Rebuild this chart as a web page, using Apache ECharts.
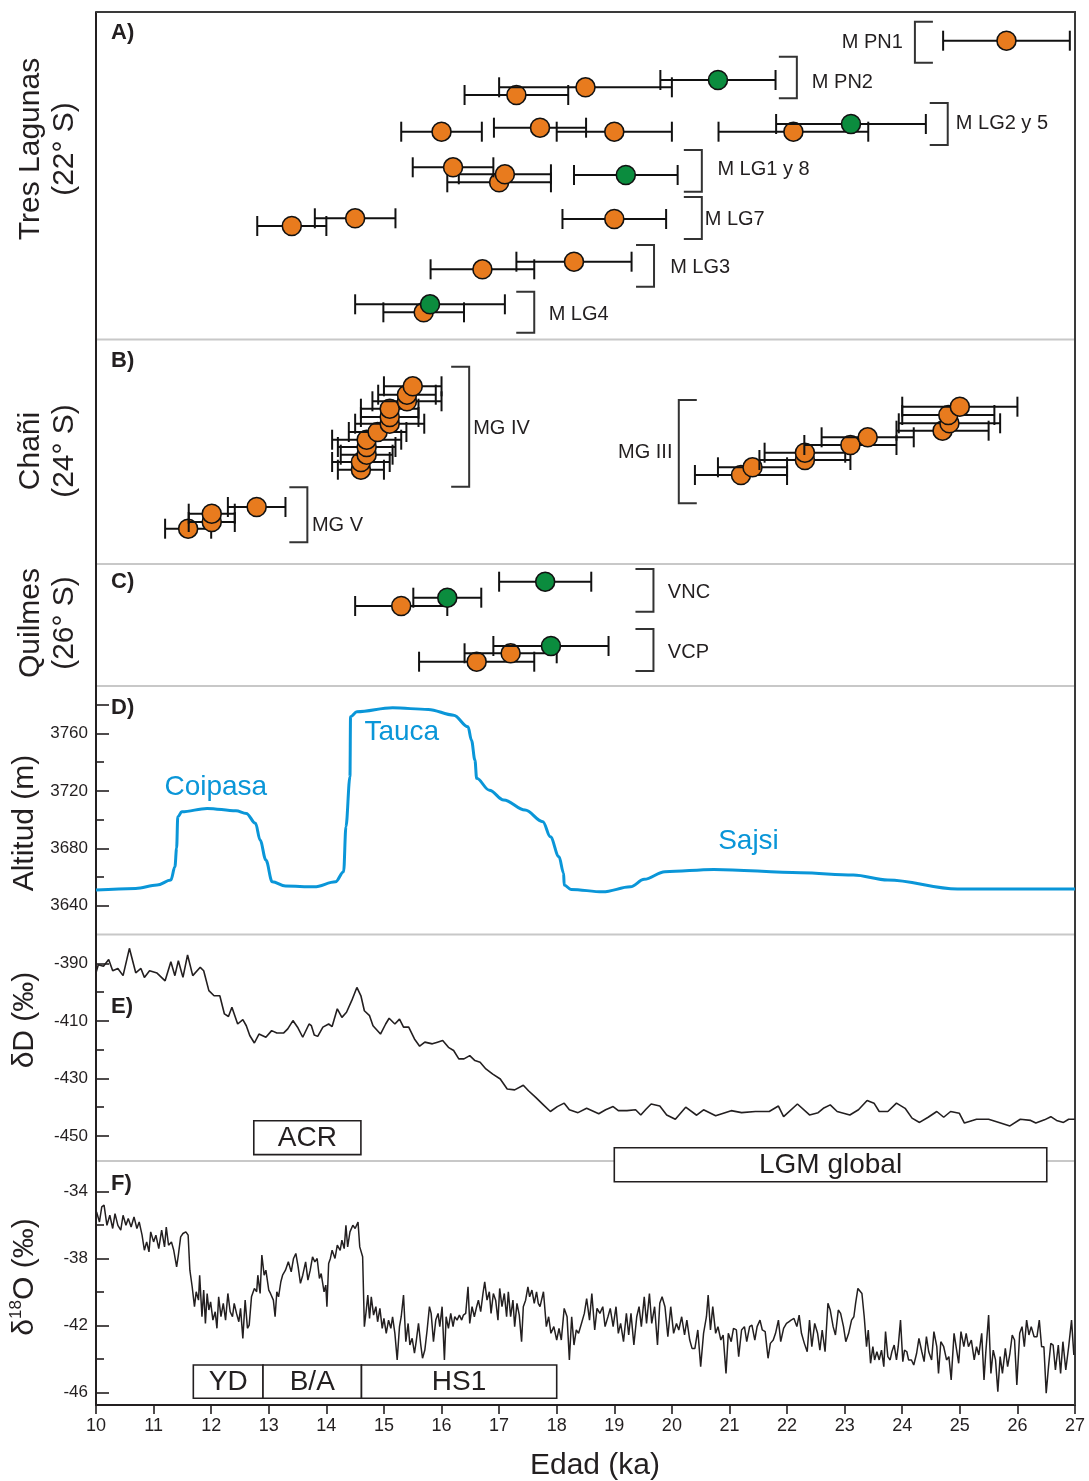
<!DOCTYPE html>
<html><head><meta charset="utf-8">
<script src="https://cdn.jsdelivr.net/npm/echarts@6/dist/echarts.min.js"></script>
<style>html,body{margin:0;padding:0;background:#fff}#c{width:1089px;height:1481px}</style>
</head><body><div id="c"></div>
<script>
// ---------- DATA ----------
const ageTicks = [10,11,12,13,14,15,16,17,18,19,20,21,22,23,24,25,26,27];

// Panel A: Tres Lagunas (age ka, ±error, row, type o=orange g=green)
const aAge  = [25.81, 20.80, 18.50, 17.30, 23.11, 22.11, 19.00, 17.71, 16.00, 19.20, 16.20, 17.10, 17.00, 19.00, 14.50, 13.40, 18.30, 16.71, 15.80, 15.69];
const aErr  = [1.1, 1.0, 1.5, 0.9, 1.3, 1.3, 1.0, 0.8, 0.7, 0.9, 0.7, 0.8, 0.9, 0.9, 0.7, 0.6, 1.0, 0.9, 1.3, 0.7];
const aRow  = [2.87, 6.8, 7.53, 8.3, 11.2, 11.97, 11.97, 11.57, 11.97, 16.3, 15.53, 16.23, 17.03, 20.7, 20.63, 21.4, 24.97, 25.73, 29.23, 30.03];
const aType = ['o','g','o','o','g','o','o','o','o','g','o','o','o','o','o','o','o','o','g','o'];
const aBrkName = ['M PN1','M PN2','M LG2 y 5','M LG1 y 8','M LG7','M LG3','M LG4'];
const aBrkAge  = [24.22, 22.17, 24.79, 20.52, 20.52, 19.69, 17.61];
const aBrkTop  = [0.97, 4.47, 9.1, 13.8, 18.5, 23.3, 27.97];
const aBrkBot  = [5.07, 8.63, 13.3, 17.97, 22.7, 27.47, 32.07];
const aBrkOpen = ['right','left','left','left','left','left','left'];
const aLblAge  = [24.01, 22.43, 24.93, 20.79, 20.57, 19.97, 17.86];
const aLblRow  = [3.0, 7.07, 11.1, 15.7, 20.7, 25.5, 30.2];

// Panel B: Chañi
const bAge  = [15.50,15.40,15.40,15.10,15.10,15.10,14.89,14.70,14.70,14.70,14.60,14.60, 12.79,12.01,12.01,11.60, 25.00,24.80,24.82,24.70,23.40,23.10,22.31,22.31,21.40,21.20];
const bErr  = [0.5,0.5,0.6,0.5,0.5,0.6,0.5,0.6,0.5,0.45,0.5,0.4, 0.5,0.4,0.4,0.4, 1.0,0.8,0.88,0.8,0.8,0.8,0.7,0.79,0.6,0.8];
const bRow  = [4.68,5.52,6.18,6.92,7.75,8.42,9.25,10.02,10.75,11.52,12.25,13.02, 16.75,17.42,18.25,18.92, 6.72,7.55,8.38,9.12,9.78,10.55,11.32,12.05,12.78,13.55];
const bType = bAge.map(() => 'o');
const bBrkName = ['MG IV','MG V','MG III'];
const bBrkAge  = [16.48, 13.67, 20.12];
const bBrkTop  = [2.72, 14.78, 6.05];
const bBrkBot  = [14.72, 20.28, 16.38];
const bBrkOpen = ['left','left','right'];
const bLblAge  = [16.55, 13.75, 20.01];
const bLblRow  = [8.85, 18.55, 11.25];

// Panel C: Quilmes
const cAge  = [17.80, 16.10, 15.30, 17.90, 17.20, 16.61];
const cErr  = [0.8, 0.59, 0.8, 1.0, 0.8, 1.0];
const cRow  = [1.77, 3.37, 4.2, 8.2, 8.93, 9.77];
const cType = ['g','g','o','g','o','o'];
const cBrkName = ['VNC','VCP'];
const cBrkAge  = [19.68, 19.68];
const cBrkTop  = [0.5, 6.5];
const cBrkBot  = [4.77, 10.7];
const cBrkOpen = ['left','left'];
const cLblAge  = [19.93, 19.93];
const cLblRow  = [2.8, 8.8];

// Panel D: lake level altitude (m)
const dAge = [10.0,10.69,11.06,11.30,11.37,11.40,11.42,11.49,11.93,12.43,12.61,12.77,12.85,12.95,13.06,13.29,13.79,14.16,14.30,14.34,14.41,14.42,14.53,15.15,15.77,16.21,16.46,16.52,16.58,16.61,16.83,17.08,17.45,17.76,17.89,18.04,18.12,18.13,18.25,18.80,19.28,19.52,19.88,20.73,22.24,23.15,23.75,24.96,27.0];
const dAlt = [3650.9,3652.1,3654.4,3657.9,3667.1,3680.2,3701.9,3705.4,3707.8,3706.1,3704.3,3697.4,3685.7,3671.8,3656.7,3653.7,3653.2,3656.7,3663.7,3695.0,3729.8,3771.6,3775.0,3777.8,3776.7,3772.7,3764.6,3755.3,3741.4,3728.7,3720.5,3713.6,3706.6,3698.5,3688.0,3674.1,3662.6,3654.4,3651.4,3649.7,3653.2,3658.4,3663.7,3665.3,3663.0,3661.4,3657.9,3651.6,3651.6];
const dLblText = ['Coipasa','Tauca','Sajsi'];
const dLblAge  = [12.08, 15.31, 21.33];
const dLblAlt  = [3722.8, 3761.1, 3685.0];

// Panel E: δD (‰)
const eAge = [10.00,10.04,10.13,10.22,10.29,10.38,10.47,10.58,10.69,10.78,10.84,10.93,11.06,11.20,11.30,11.37,11.43,11.51,11.59,11.68,11.81,11.87,11.96,12.05,12.15,12.23,12.30,12.36,12.46,12.55,12.61,12.67,12.75,12.83,12.95,13.05,13.14,13.26,13.33,13.42,13.50,13.59,13.70,13.74,13.79,13.85,13.94,14.04,14.10,14.19,14.27,14.35,14.44,14.53,14.60,14.66,14.75,14.81,14.94,15.03,15.09,15.19,15.27,15.34,15.43,15.53,15.62,15.71,15.84,15.93,16.02,16.12,16.21,16.30,16.39,16.49,16.58,16.67,16.77,16.89,17.02,17.14,17.27,17.42,17.51,17.64,17.76,17.89,18.01,18.13,18.22,18.37,18.52,18.73,18.85,18.98,19.07,19.22,19.37,19.46,19.55,19.64,19.79,19.91,20.06,20.24,20.43,20.55,20.76,21.03,21.21,21.45,21.69,21.85,21.94,22.18,22.39,22.54,22.63,22.75,22.87,23.09,23.24,23.39,23.51,23.60,23.75,23.90,24.05,24.17,24.30,24.45,24.60,24.72,24.84,24.99,25.08,25.29,25.50,25.68,25.87,26.05,26.23,26.32,26.47,26.58,26.68,26.80,26.89,27.00];
const eVal = [-393.3,-390.5,-391.0,-388.7,-392.6,-391.8,-394.3,-384.8,-393.3,-391.8,-394.9,-392.6,-393.4,-396.1,-389.5,-394.3,-389.1,-394.9,-387.1,-394.3,-391.4,-392.6,-399.5,-401.3,-401.3,-407.6,-408.5,-405.3,-411.1,-409.6,-411.7,-415.1,-417.7,-414.6,-415.7,-413.4,-414.2,-414.2,-412.8,-409.9,-412.2,-415.7,-411.1,-411.7,-414.9,-415.4,-412.2,-411.1,-412.0,-405.8,-408.8,-407.0,-403.0,-398.4,-401.3,-406.5,-408.2,-411.7,-414.6,-411.1,-409.1,-411.1,-409.4,-412.2,-412.2,-416.3,-418.8,-417.4,-418.0,-417.4,-416.8,-419.2,-420.3,-423.2,-423.2,-422.1,-423.8,-424.4,-426.7,-428.5,-430.2,-433.7,-434.0,-432.4,-434.3,-436.7,-439.0,-441.5,-439.8,-438.6,-440.9,-441.9,-440.4,-442.3,-440.9,-439.8,-441.2,-441.2,-440.9,-442.7,-440.7,-438.9,-439.6,-442.7,-444.2,-440.0,-442.8,-440.9,-443.0,-441.2,-441.9,-441.5,-441.5,-439.6,-443.3,-438.9,-442.7,-441.9,-440.4,-439.2,-441.5,-442.7,-440.9,-437.7,-438.6,-441.5,-441.5,-438.6,-440.4,-443.8,-445.3,-443.5,-441.5,-443.5,-441.5,-442.1,-445.5,-444.2,-444.2,-445.3,-446.5,-444.2,-444.6,-445.5,-444.4,-443.3,-444.6,-445.3,-444.2,-444.2];
const eBoxText = ['ACR','LGM global'];
const eBoxFrom = [12.74, 19.00];
const eBoxTo   = [14.60, 26.51];
const eBoxTop  = [-444.7, -454.1];
const eBoxBot  = [-456.5, -465.9];

// Panel F: δ18O (‰)
const fAge = [10.01,10.06,10.10,10.14,10.19,10.24,10.29,10.33,10.38,10.43,10.47,10.52,10.56,10.61,10.66,10.71,10.75,10.80,10.84,10.88,10.92,10.95,11.00,11.04,11.09,11.14,11.19,11.22,11.26,11.31,11.35,11.40,11.43,11.47,11.51,11.56,11.60,11.63,11.67,11.71,11.74,11.78,11.80,11.84,11.87,11.90,11.93,11.96,11.99,12.03,12.07,12.10,12.13,12.17,12.21,12.25,12.29,12.33,12.37,12.40,12.44,12.48,12.51,12.55,12.59,12.63,12.66,12.70,12.75,12.79,12.81,12.85,12.88,12.92,12.95,13.00,13.03,13.08,13.11,13.14,13.17,13.21,13.24,13.29,13.34,13.39,13.43,13.47,13.51,13.55,13.59,13.64,13.68,13.72,13.76,13.80,13.84,13.88,13.91,13.96,13.99,14.01,14.04,14.07,14.10,14.15,14.19,14.24,14.27,14.31,14.34,14.37,14.41,14.46,14.50,14.55,14.58,14.63,14.65,14.66,14.69,14.72,14.75,14.78,14.82,14.86,14.89,14.93,14.97,15.00,15.04,15.08,15.12,15.15,15.19,15.23,15.27,15.30,15.34,15.38,15.42,15.45,15.49,15.53,15.56,15.60,15.64,15.67,15.71,15.75,15.79,15.82,15.86,15.90,15.94,15.97,16.01,16.05,16.08,16.12,16.16,16.20,16.23,16.27,16.31,16.35,16.38,16.42,16.46,16.49,16.53,16.57,16.61,16.64,16.68,16.72,16.75,16.79,16.83,16.86,16.90,16.94,16.98,17.01,17.05,17.09,17.13,17.16,17.20,17.24,17.27,17.31,17.35,17.39,17.42,17.46,17.50,17.53,17.57,17.61,17.65,17.68,17.71,17.77,17.82,17.86,17.90,17.95,18.00,18.04,18.08,18.13,18.18,18.22,18.26,18.30,18.34,18.38,18.43,18.48,18.52,18.57,18.61,18.66,18.70,18.75,18.80,18.84,18.89,18.93,18.98,19.03,19.07,19.11,19.16,19.21,19.25,19.29,19.34,19.39,19.43,19.47,19.52,19.56,19.61,19.65,19.70,19.75,19.79,19.83,19.88,19.93,19.98,20.03,20.08,20.12,20.17,20.22,20.26,20.31,20.35,20.40,20.45,20.50,20.55,20.60,20.63,20.67,20.71,20.76,20.80,20.85,20.89,20.94,20.98,21.03,21.07,21.12,21.16,21.21,21.26,21.30,21.35,21.39,21.44,21.48,21.53,21.57,21.62,21.67,21.71,21.76,21.80,21.85,21.89,21.94,21.99,22.03,22.07,22.12,22.17,22.21,22.25,22.30,22.35,22.39,22.43,22.48,22.53,22.57,22.61,22.66,22.71,22.75,22.80,22.84,22.89,22.93,22.98,23.02,23.07,23.12,23.16,23.19,23.23,23.26,23.30,23.34,23.38,23.41,23.45,23.49,23.52,23.56,23.60,23.64,23.68,23.71,23.75,23.79,23.82,23.86,23.90,23.93,23.97,24.01,24.04,24.08,24.11,24.16,24.20,24.25,24.29,24.34,24.38,24.42,24.46,24.51,24.55,24.60,24.63,24.67,24.72,24.77,24.81,24.85,24.90,24.93,24.98,25.02,25.07,25.11,25.15,25.20,25.25,25.29,25.33,25.38,25.42,25.45,25.50,25.54,25.58,25.62,25.66,25.70,25.74,25.79,25.83,25.87,25.91,25.95,25.99,26.04,26.08,26.12,26.16,26.20,26.24,26.29,26.34,26.38,26.42,26.46,26.50,26.54,26.58,26.62,26.66,26.71,26.75,26.79,26.84,26.89,26.94,26.98];
const fVal = [-35.23,-35.83,-34.93,-34.83,-36.03,-35.43,-36.22,-35.33,-36.03,-36.32,-35.43,-36.03,-35.63,-36.13,-35.53,-36.22,-35.83,-36.62,-37.52,-37.02,-37.62,-36.42,-37.02,-36.62,-37.42,-36.32,-37.32,-36.13,-37.22,-37.02,-37.52,-38.51,-37.81,-36.72,-36.52,-36.42,-36.62,-38.71,-39.70,-40.89,-40.00,-40.50,-39.01,-41.49,-39.90,-41.89,-40.10,-41.09,-40.60,-41.69,-41.19,-42.18,-40.30,-41.49,-40.69,-41.69,-40.10,-41.19,-41.49,-40.69,-41.29,-41.79,-40.99,-42.78,-40.50,-42.18,-41.99,-40.30,-39.80,-40.00,-39.01,-40.10,-37.81,-39.01,-38.71,-39.90,-40.10,-40.50,-41.49,-40.00,-40.30,-39.40,-39.01,-38.71,-38.21,-38.81,-38.01,-37.71,-38.51,-39.50,-39.01,-38.21,-39.30,-38.71,-37.91,-38.21,-38.01,-39.20,-38.91,-40.00,-39.60,-40.89,-38.31,-38.01,-37.52,-38.01,-37.22,-37.52,-36.92,-37.42,-36.03,-37.32,-36.42,-36.03,-36.22,-35.83,-37.32,-37.91,-40.69,-42.08,-41.19,-40.20,-41.59,-40.30,-41.39,-40.89,-41.79,-40.99,-42.18,-41.59,-42.48,-41.69,-42.18,-41.49,-42.48,-44.07,-42.08,-41.49,-40.20,-42.98,-41.89,-43.18,-42.78,-43.67,-42.98,-41.89,-43.18,-43.97,-43.48,-42.28,-40.89,-41.29,-42.98,-41.69,-41.29,-42.08,-40.89,-44.07,-41.49,-42.18,-41.29,-42.08,-41.49,-41.69,-41.39,-41.69,-41.39,-41.29,-39.70,-41.89,-40.89,-41.49,-40.89,-40.50,-41.19,-40.10,-39.40,-40.50,-40.00,-41.29,-40.10,-40.50,-41.69,-39.80,-40.89,-40.10,-41.49,-40.00,-41.49,-40.50,-42.08,-40.69,-41.39,-42.98,-40.89,-40.50,-39.70,-40.30,-39.90,-40.69,-40.00,-40.69,-40.89,-40.00,-42.08,-41.49,-42.48,-42.08,-42.88,-42.18,-42.88,-40.99,-41.49,-44.07,-41.49,-43.18,-42.28,-42.48,-41.89,-41.29,-40.40,-41.69,-40.10,-42.28,-40.99,-41.29,-40.89,-42.08,-41.49,-40.99,-42.08,-40.89,-42.48,-41.89,-42.98,-41.29,-42.58,-41.29,-43.18,-41.49,-40.89,-42.08,-40.30,-41.89,-40.10,-41.89,-40.89,-43.18,-40.69,-40.30,-40.89,-42.68,-40.89,-42.48,-41.89,-42.28,-41.49,-42.58,-41.69,-42.88,-43.38,-43.38,-42.28,-44.47,-42.48,-41.49,-40.20,-42.28,-40.89,-42.48,-42.08,-42.88,-42.58,-44.87,-42.48,-42.98,-42.18,-42.28,-43.87,-42.28,-42.08,-42.98,-42.08,-41.99,-42.88,-42.08,-41.69,-42.28,-42.38,-43.97,-43.08,-42.88,-42.48,-41.69,-42.98,-42.18,-41.89,-41.79,-41.69,-41.59,-42.08,-41.39,-42.48,-43.08,-43.58,-41.69,-43.28,-41.89,-42.48,-43.48,-42.28,-43.58,-40.69,-41.09,-42.08,-42.58,-41.09,-41.29,-42.08,-42.98,-42.48,-41.69,-41.49,-40.69,-39.80,-39.70,-40.10,-41.49,-43.28,-42.28,-44.27,-43.28,-44.07,-43.58,-44.07,-43.48,-44.47,-42.38,-43.87,-44.07,-43.58,-43.18,-44.07,-43.28,-41.69,-44.17,-43.48,-43.58,-44.07,-44.07,-44.37,-43.67,-42.78,-43.58,-44.17,-42.68,-43.58,-44.07,-42.38,-43.28,-44.87,-42.98,-43.28,-44.07,-43.87,-45.26,-42.48,-42.58,-44.27,-42.38,-43.28,-42.48,-43.28,-42.88,-44.07,-43.28,-43.77,-42.48,-45.26,-43.67,-41.39,-44.87,-43.48,-44.07,-45.96,-43.87,-44.87,-43.38,-44.47,-43.67,-42.58,-42.88,-45.56,-42.48,-42.08,-43.28,-41.69,-42.58,-42.08,-42.68,-42.68,-41.69,-43.28,-43.28,-46.06,-44.47,-43.08,-43.18,-44.67,-43.18,-44.87,-42.98,-44.67,-43.28,-41.69,-43.77];
const fBoxText = ['YD','B/A','HS1'];
const fBoxFrom = [11.69, 12.90, 14.61];
const fBoxTo   = [12.90, 14.61, 18.00];
const fBoxTop  = [-44.37, -44.37, -44.37];
const fBoxBot  = [-46.36, -46.36, -46.36];

// tick values
const dMajor = [3640,3680,3720,3760,3780], dLabels = [3640,3680,3720,3760], dMinor = [3660,3700,3740];
const eMajor = [-450,-430,-410,-390], eMinor = [-440,-420,-400];
const fMajor = [-46,-42,-38,-34], fMinor = [-44,-40,-36];

// ---------- STYLE / LAYOUT ----------
const TXT = '#231f20', ORANGE = '#e87b1e', GREEN = '#0b8c3e', BLUE = '#0a96d8';
const FONT = '"Liberation Sans", Arial, Helvetica, sans-serif';
const L = 96, W = 979;
const panels = [[12, 327.5], [339.5, 224.5], [564, 122], [686, 248.5], [934.5, 226.5], [1161, 244]];

const chart = echarts.init(document.getElementById('c'), null, {renderer: 'canvas'});

function pointSeries(gi, ages, errs, rows, types) {
  const order = ages.map((_, i) => i).sort((a, b) => rows[b] - rows[a]);
  return {
    type: 'custom', xAxisIndex: gi, yAxisIndex: gi, z: 4, clip: false,
    encode: {x: 0, y: 2},
    data: order.map(i => [ages[i], errs[i], rows[i], types[i] === 'g' ? 1 : 0]),
    renderItem(params, api) {
      const x = api.value(0), e = api.value(1), r = api.value(2), g = api.value(3);
      const c = api.coord([x, r]), lo = api.coord([x - e, r]), hi = api.coord([x + e, r]);
      const st = {stroke: '#111', lineWidth: 2};
      return {type: 'group', children: [
        {type: 'line', shape: {x1: lo[0], y1: c[1], x2: hi[0], y2: c[1]}, style: st},
        {type: 'line', shape: {x1: lo[0], y1: c[1] - 10, x2: lo[0], y2: c[1] + 10}, style: st},
        {type: 'line', shape: {x1: hi[0], y1: c[1] - 10, x2: hi[0], y2: c[1] + 10}, style: st},
        {type: 'circle', shape: {cx: c[0], cy: c[1], r: 9.5}, style: {fill: g ? GREEN : ORANGE, stroke: '#111', lineWidth: 1.6}}
      ]};
    }
  };
}

function bracketSeries(gi, names, ages, tops, bots, opens, lAges, lRows) {
  return {
    type: 'custom', xAxisIndex: gi, yAxisIndex: gi, z: 4, clip: false,
    encode: {x: 0, y: 1},
    data: ages.map((a, i) => [a, tops[i]]),
    renderItem(params, api) {
      const i = params.dataIndex;
      const t = api.coord([ages[i], tops[i]]), b = api.coord([ages[i], bots[i]]);
      const d = opens[i] === 'left' ? -18 : 18;
      const lp = api.coord([lAges[i], lRows[i]]);
      return {type: 'group', children: [
        {type: 'polyline', shape: {points: [[t[0] + d, t[1]], [t[0], t[1]], [t[0], b[1]], [t[0] + d, b[1]]]},
         style: {stroke: '#333', lineWidth: 2, fill: null}},
        {type: 'text', x: lp[0], y: lp[1], style: {text: names[i], fill: TXT, font: '20px ' + FONT,
          textAlign: opens[i] === 'left' ? 'left' : 'right', textVerticalAlign: 'middle'}}
      ]};
    }
  };
}

function boxSeries(gi, yi, texts, from, to, top, bot) {
  return {
    type: 'custom', xAxisIndex: gi, yAxisIndex: yi, z: 6, clip: false,
    encode: {x: 0, y: 1},
    data: from.map((f, i) => [f, top[i]]),
    renderItem(params, api) {
      const i = params.dataIndex;
      const p0 = api.coord([from[i], top[i]]), p1 = api.coord([to[i], bot[i]]);
      return {type: 'group', children: [
        {type: 'rect', shape: {x: p0[0], y: p0[1], width: p1[0] - p0[0], height: p1[1] - p0[1]},
         style: {fill: '#fff', stroke: TXT, lineWidth: 1.6}},
        {type: 'text', x: (p0[0] + p1[0]) / 2, y: (p0[1] + p1[1]) / 2 + 1,
         style: {text: texts[i], fill: TXT, font: '28px ' + FONT, textAlign: 'center', textVerticalAlign: 'middle'}}
      ]};
    }
  };
}

const axisLineStyle = {color: TXT, width: 2};
function hiddenY(gi, max) {
  return {gridIndex: gi, type: 'value', position: 'left', min: 0, max: max, inverse: true,
    axisLine: {show: true, onZero: false, lineStyle: axisLineStyle},
    axisTick: {show: false}, axisLabel: {show: false}, splitLine: {show: false}};
}
function majorY(gi, min, max, ticks, labels) {
  return {gridIndex: gi, type: 'value', position: 'left', offset: 0, min: min, max: max,
    axisLine: {show: true, onZero: false, lineStyle: axisLineStyle},
    axisTick: {show: true, inside: true, length: 13, customValues: ticks, lineStyle: {color: TXT, width: 1.6}},
    axisLabel: {show: true, customValues: labels, fontSize: 17, color: TXT, margin: 8, fontFamily: FONT,
      formatter: v => String(Math.round(v))},
    splitLine: {show: false}};
}
function minorY(gi, min, max, ticks) {
  return {gridIndex: gi, type: 'value', position: 'left', offset: 0, min: min, max: max,
    axisLine: {show: false, onZero: false},
    axisTick: {show: true, inside: true, length: 8, customValues: ticks, lineStyle: {color: TXT, width: 1.6}},
    axisLabel: {show: false}, splitLine: {show: false}};
}

const option = {
  animation: false,
  backgroundColor: '#ffffff',
  textStyle: {fontFamily: FONT},
  grid: panels.map(p => ({left: L, width: W, top: p[0], height: p[1], containLabel: false})),
  xAxis: panels.map((p, i) => ({
    gridIndex: i, type: 'value', min: ageTicks[0], max: ageTicks[ageTicks.length - 1], interval: 1,
    show: i === 5,
    axisLine: {show: true, onZero: false, lineStyle: axisLineStyle},
    axisTick: {show: true, length: 9, lineStyle: {color: TXT, width: 1.6}},
    axisLabel: {show: true, fontSize: 18, color: TXT, margin: 12, fontFamily: FONT},
    splitLine: {show: false}
  })),
  yAxis: [
    hiddenY(0, 32.75), hiddenY(1, 22.45), hiddenY(2, 12.2),
    majorY(3, 3620, 3793, dMajor, dLabels), minorY(3, 3620, 3793, dMinor),
    majorY(4, -458.7, -380, eMajor, eMajor), minorY(4, -458.7, -380, eMinor),
    majorY(5, -46.76, -32.19, fMajor, fMajor), minorY(5, -46.76, -32.19, fMinor)
  ],
  series: [
    pointSeries(0, aAge, aErr, aRow, aType),
    bracketSeries(0, aBrkName, aBrkAge, aBrkTop, aBrkBot, aBrkOpen, aLblAge, aLblRow),
    pointSeries(1, bAge, bErr, bRow, bType),
    bracketSeries(1, bBrkName, bBrkAge, bBrkTop, bBrkBot, bBrkOpen, bLblAge, bLblRow),
    pointSeries(2, cAge, cErr, cRow, cType),
    bracketSeries(2, cBrkName, cBrkAge, cBrkTop, cBrkBot, cBrkOpen, cLblAge, cLblRow),
    {type: 'line', xAxisIndex: 3, yAxisIndex: 3, data: dAge.map((a, i) => [a, dAlt[i]]),
     showSymbol: false, smooth: 0.35, smoothMonotone: 'x', lineStyle: {color: BLUE, width: 3}, z: 3},
    {type: 'custom', xAxisIndex: 3, yAxisIndex: 3, z: 4, encode: {x: 0, y: 1},
     data: dLblAge.map((a, i) => [a, dLblAlt[i]]),
     renderItem(params, api) {
       const p = api.coord([api.value(0), api.value(1)]);
       return {type: 'text', x: p[0], y: p[1], style: {text: dLblText[params.dataIndex], fill: BLUE,
         font: '28px ' + FONT, textAlign: 'center', textVerticalAlign: 'middle'}};
     }},
    {type: 'line', xAxisIndex: 4, yAxisIndex: 5, data: eAge.map((a, i) => [a, eVal[i]]),
     showSymbol: false, lineStyle: {color: TXT, width: 1.6}, z: 3},
    boxSeries(4, 5, eBoxText, eBoxFrom, eBoxTo, eBoxTop, eBoxBot),
    {type: 'line', xAxisIndex: 5, yAxisIndex: 7, data: fAge.map((a, i) => [a, fVal[i]]),
     showSymbol: false, lineStyle: {color: TXT, width: 1.5}, z: 3},
    boxSeries(5, 7, fBoxText, fBoxFrom, fBoxTo, fBoxTop, fBoxBot)
  ],
  graphic: [
    // frame & separators
    {type: 'line', z: 1, shape: {x1: L, y1: 12, x2: L + W, y2: 12}, style: {stroke: '#3a3a3a', lineWidth: 2}},
    {type: 'line', z: 1, shape: {x1: L + W, y1: 11, x2: L + W, y2: 1405}, style: {stroke: '#3a3a3a', lineWidth: 2}},
    ...[339.5, 564, 686, 934.5, 1161].map(y => ({type: 'line', z: 1,
      shape: {x1: L + 1, y1: y, x2: L + W - 1, y2: y}, style: {stroke: '#c8c8c8', lineWidth: 2}})),
    // panel letters
    ...[['A)', 33], ['B)', 361], ['C)', 582], ['D)', 708], ['E)', 1007], ['F)', 1184]].map(t => ({
      type: 'text', z: 10, x: 111, y: t[1], style: {text: t[0], fill: TXT, font: 'bold 22px ' + FONT, textVerticalAlign: 'middle'}})),
    // axis titles
    {type: 'text', z: 10, x: 48, y: 149, rotation: Math.PI / 2,
     style: {text: 'Tres Lagunas\n(22° S)', fill: TXT, font: '30px ' + FONT, lineHeight: 34, textAlign: 'center', textVerticalAlign: 'middle'}},
    {type: 'text', z: 10, x: 48, y: 451, rotation: Math.PI / 2,
     style: {text: 'Chañi\n(24° S)', fill: TXT, font: '30px ' + FONT, lineHeight: 34, textAlign: 'center', textVerticalAlign: 'middle'}},
    {type: 'text', z: 10, x: 48, y: 623, rotation: Math.PI / 2,
     style: {text: 'Quilmes\n(26° S)', fill: TXT, font: '30px ' + FONT, lineHeight: 34, textAlign: 'center', textVerticalAlign: 'middle'}},
    {type: 'text', z: 10, x: 25, y: 823, rotation: Math.PI / 2,
     style: {text: 'Altitud (m)', fill: TXT, font: '30px ' + FONT, textAlign: 'center', textVerticalAlign: 'middle'}},
    {type: 'text', z: 10, x: 25, y: 1020, rotation: Math.PI / 2,
     style: {text: 'δD (‰)', fill: TXT, font: '30px ' + FONT, textAlign: 'center', textVerticalAlign: 'middle'}},
    {type: 'text', z: 10, x: 25, y: 1277, rotation: Math.PI / 2,
     style: {text: '{n|δ}{s|18}{n|O (‰)}', fill: TXT, textAlign: 'center', textVerticalAlign: 'middle',
       rich: {n: {fontSize: 30, fontFamily: FONT, fill: TXT, lineHeight: 34},
              s: {fontSize: 17, fontFamily: FONT, fill: TXT, verticalAlign: 'top', lineHeight: 34}}}},
    {type: 'text', z: 10, x: 595, y: 1466,
     style: {text: 'Edad (ka)', fill: TXT, font: '30px ' + FONT, textAlign: 'center', textVerticalAlign: 'middle'}}
  ]
};
chart.setOption(option);
</script>
</body></html>
